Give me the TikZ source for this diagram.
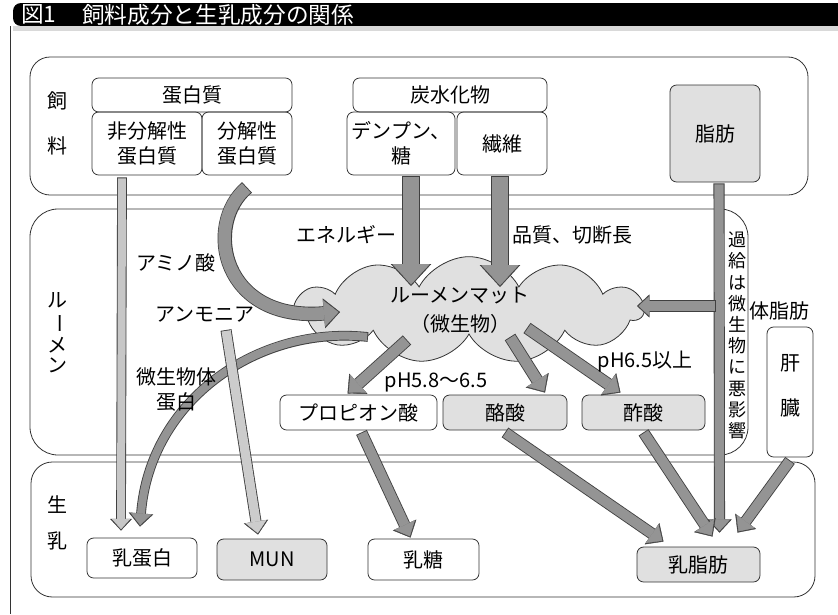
\documentclass[tikz,border=0pt]{standalone}
\usepackage{fontspec}
\setmainfont{Noto Sans CJK JP}
\usetikzlibrary{arrows.meta,shapes.symbols,calc}
\newcommand\fs{\fontsize{15}{18.75}\selectfont}
\tikzset{
  sect/.style={draw=black!80, line width=0.6pt},
  box/.style={draw=black!80, line width=0.6pt, rounded corners=5pt, inner sep=0pt, align=center, font=\fs},
  shaded/.style={fill=black!12},
  lbl/.style={inner sep=0pt, font=\fs, align=center},
}
% #1 fill colour, #2 shaft width (pt), #3 head width (pt), #4 path
\newcommand\fatarr[4][black!42]{%
  \pgfmathsetmacro\fwi{#2}%
  \pgfmathsetmacro\fwo{#2+1.3}%
  \pgfmathsetmacro\fhi{#3}%
  \pgfmathsetmacro\fho{#3+2.4}%
  \pgfmathsetmacro\fli{0.55*#3}%
  \pgfmathsetmacro\flo{\fli+1.1}%
  \draw[line width=\fwo pt, draw=black!75, -{Triangle[length=\flo pt,width=\fho pt,line width=0.3pt]}] #4;
  \draw[line width=\fwi pt, draw=#1, shorten <=0.65pt, shorten >=1.1pt, -{Triangle[length=\fli pt,width=\fhi pt,line width=0.3pt]}] #4;
}
\begin{document}
\begin{tikzpicture}[x=0.75pt,y=-0.75pt]
\useasboundingbox (0,0) rectangle (838,614);
\fill[white] (0,0) rectangle (838,614);
% title bar
\fill[black] (838,26) [rounded corners=6pt] -- (13,26) -- (13,3) [sharp corners] -- (838,3) -- cycle;
\fill[black!15] (13,26) rectangle (838,31);
\draw[black!80, line width=0.6pt] (10,26) -- (10,614);
\node[text=white, font=\fontsize{17}{18}\selectfont, anchor=west, inner sep=0pt] (ttl1) at (21,14.5) {図1};
\node[text=white, font=\fontsize{17}{18}\selectfont, anchor=west, inner sep=0pt] (ttl2) at (82,14.5) {飼料成分と生乳成分の関係};

% sections
\draw[sect, rounded corners=15pt] (30,57) rectangle (808,195);
\draw[sect, rounded corners=21pt] (30,209) rectangle (748,455);
\draw[sect, rounded corners=16pt] (31,462) rectangle (815,597);

\node[lbl] (f1) at (57,101) {飼};
\node[lbl] (f2) at (57,146) {料};
\node[lbl] (r1) at (57,300) {ル};
\node[lbl, rotate=-90] (r2) at (57,323) {ー};
\node[lbl] (r3) at (57,345) {メ};
\node[lbl] (r4) at (57,365) {ン};
\node[lbl] (m1) at (57,505) {生};
\node[lbl] (m2) at (57,541) {乳};

% cloud
\node[cloud, cloud puffs=11, cloud puff arc=125, cloud ignores aspect, draw=black!80, line width=0.6pt, fill=black!12,
      minimum width=261pt, minimum height=80pt, inner sep=0pt] (mat) at (469,310) {};

% feed boxes
\node[box, minimum width=150pt, minimum height=25.5pt] (prot) at (192,95) {蛋白質};
\node[box, minimum width=82.5pt, minimum height=47.25pt] (nondeg) at (147,143.5) {非分解性\\蛋白質};
\node[box, minimum width=67.5pt, minimum height=47.25pt] (deg) at (247,143.5) {分解性\\蛋白質};
\node[box, minimum width=145.5pt, minimum height=25.5pt] (carb) at (450,95) {炭水化物};
\node[box, minimum width=81pt, minimum height=47.25pt] (starch) at (401,143.5) {デンプン、\\糖};
\node[box, minimum width=67.5pt, minimum height=47.25pt] (fiber) at (502,143.5) {繊維};
\node[box, shaded, minimum width=67.5pt, minimum height=72.75pt] (fat) at (715,133.5) {脂肪};

% rumen boxes
\node[box, minimum width=117.75pt, minimum height=26.25pt] (prop) at (358.5,412.5) {プロピオン酸};
\node[box, shaded, minimum width=93pt, minimum height=26.25pt] (but) at (505,412.5) {酪酸};
\node[box, shaded, minimum width=92.25pt, minimum height=26.25pt] (ace) at (643.5,412.5) {酢酸};
\node[box, minimum width=34.5pt, minimum height=97.5pt] (liver) at (790,392) {};

% milk boxes
\node[box, minimum width=82.5pt, minimum height=30pt] (mprot) at (142,558) {乳蛋白};
\node[box, shaded, minimum width=82.5pt, minimum height=30.75pt] (mun) at (272,559.5) {MUN};
\node[box, minimum width=83.25pt, minimum height=30.75pt] (lact) at (423.5,559.5) {乳糖};
\node[box, shaded, minimum width=92.25pt, minimum height=26.25pt] (mfat) at (698.5,564.5) {乳脂肪};

% arrow end points
\coordinate (a1s) at ($(nondeg.south)+(-25,2)$);
\coordinate (a1e) at ($(mprot.north)+(-21,-7)$);
\coordinate (a2s) at ($(deg.south)+(0,12)$);
\coordinate (a2e) at ($(mat.center)+(-129,2)$);
\coordinate (a3s) at ($(starch.south)+(10,1)$);
\coordinate (a3e) at ($(mat.center)+(-58,-24)$);
\coordinate (a4s) at ($(fiber.south)+(-2,1)$);
\coordinate (a4e) at ($(mat.center)+(31,-23)$);
\coordinate (a5s) at ($(fat.south)+(4,1)$);
\coordinate (a5e) at ($(mfat.north)+(21,-14)$);
\coordinate (a6s) at (716,306);
\coordinate (a6e) at ($(mat.center)+(168,-4)$);
\coordinate (c7) at ($(mat.center)+(-62,30)$);
\coordinate (c8) at ($(mat.center)+(41,27)$);
\coordinate (c9) at ($(mat.center)+(58,18)$);
\coordinate (c10) at ($(mat.center)+(-101,27)$);
\coordinate (a10e) at ($(mprot.north)+(-2,-11)$);
\coordinate (a11s) at (226,330);
\coordinate (a11e) at ($(mun.north)+(-14,-4)$);

% arrows
\fatarr[black!22]{6}{14}{(a1s) -- (a1e)}
\fatarr{9.5}{20}{(a2s) .. controls (203,225) and (222,322) .. (a2e)}
\fatarr{12}{28}{(a3s) -- (a3e)}
\fatarr{12}{28}{(a4s) -- (a4e)}
\fatarr{7}{16}{(a5s) -- (a5e)}
\fatarr{7}{15}{(a6s) -- (a6e)}
\fatarr{8}{18}{(c7) -- ($(prop.north)+(-11,-1)$)}
\fatarr{8}{18}{(c8) -- ($(but.north)+(40,-2)$)}
\fatarr{8}{18}{(c9) -- ($(ace.north)+(-23,-2)$)}
\fatarr{6}{16}{(c10) .. controls (258,325) and (150,400) .. (a10e)}
\fatarr[black!20]{7}{16}{(a11s) -- (a11e)}
\fatarr{7.5}{17}{($(prop.south)+(3,2)$) -- ($(lact.north)+(-13,-1)$)}
\fatarr{7.5}{17}{($(but.south)+(0,2)$) -- ($(mfat.north)+(-35,-5)$)}
\fatarr{7.5}{17}{($(ace.south)+(0,2)$) -- ($(mfat.north)+(14,-10)$)}
\fatarr{7.5}{17}{($(liver.south)+(0,3)$) -- ($(mfat.north)+(39,-14)$)}

% labels
\node[lbl] (matT) at (460,310.5) {ルーメンマット\\[3pt]（微生物）};
\node[lbl] (liverT) at (790,385.5) {肝\\[15pt]臓};
\node[lbl] (energy) at (346,235) {エネルギー};
\node[lbl] (quality) at (572,235) {品質、切断長};
\node[lbl] (amino) at (176,263) {アミノ酸};
\node[lbl] (ammonia) at (205,315) {アンモニア};
\node[lbl] (micro) at (176,389.5) {微生物体\\蛋白};
\node[lbl] (ph1) at (436,382) {pH5.8～6.5};
\node[lbl] (ph2) at (645,362) {pH6.5以上};
\node[lbl] (bodyfat) at (779,311) {体脂肪};
\node[lbl, font=\fontsize{13.5}{15.9}\selectfont] (excess) at (737,335.5) {過\\給\\は\\微\\生\\物\\に\\悪\\影\\響};
\end{tikzpicture}
\end{document}
